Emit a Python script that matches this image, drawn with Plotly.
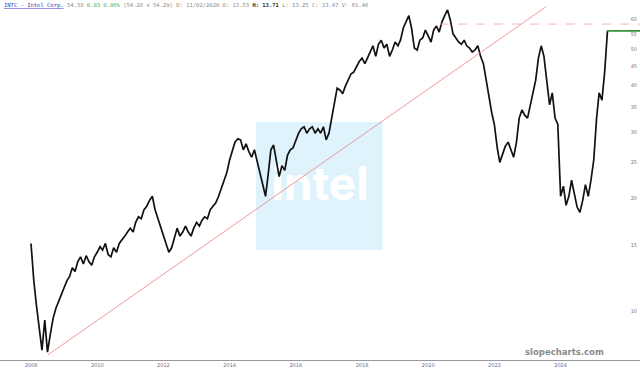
import pandas as pd
import plotly.graph_objects as go

# Monthly closing prices (Jan 2008 onward)
prices = [
    15.2, 12.1, 10.4, 8.9, 7.9, 9.5, 7.8, 8.7, 9.6, 10.2, 10.6, 11.1,
    11.6, 12.1, 12.4, 13.1, 12.8, 13.6, 14.0, 13.4, 14.1, 13.6, 13.3, 14.0,
    14.4, 14.9, 14.6, 15.2, 14.2, 14.0, 14.8, 14.4, 15.2, 15.5, 15.9, 16.3,
    16.7, 16.3, 17.3, 17.9, 17.7, 18.7, 19.1, 19.8, 20.3, 18.7, 17.7, 16.9,
    15.9, 15.1, 14.4, 14.8, 15.7, 16.7, 15.9, 16.3, 16.9, 16.3, 15.9, 16.7,
    17.3, 16.9, 17.5, 17.9, 17.7, 18.7, 19.1, 19.5, 20.3, 21.3, 22.1, 23.5,
    25.4, 27.0, 28.3, 28.9, 28.7, 27.0, 28.0, 26.7, 25.8, 27.0, 25.0, 23.5,
    21.8, 20.3, 23.1, 27.0, 27.8, 25.4, 22.9, 24.5, 23.8, 26.1, 27.0, 27.3,
    28.7, 29.9, 30.7, 31.1, 29.9, 30.7, 31.1, 29.9, 30.7, 29.9, 31.1, 28.7,
    29.9, 32.8, 35.3, 39.4, 38.97, 38.1, 39.9, 41.4, 43.0, 43.5, 45.2, 46.4,
    47.4, 45.8, 47.4, 49.2, 51.1, 47.9, 51.6, 52.9, 50.4, 51.6, 47.9, 49.8,
    52.3, 51.1, 52.9, 57.0, 59.2, 61.5, 57.0, 50.4, 49.8, 52.9, 53.6, 56.3,
    54.3, 52.3, 56.3, 57.7, 55.6, 59.2, 61.5, 63.7, 59.9, 55.0, 53.6, 52.3,
    51.6, 52.9, 51.1, 50.4, 49.2, 49.8, 51.1, 47.9, 45.8, 41.4, 37.1, 34.0,
    31.4, 27.3, 25.0, 26.4, 27.6, 28.3, 27.0, 25.8, 28.3, 32.8, 34.5, 33.4,
    32.8, 35.6, 38.1, 41.4, 47.4, 51.1, 47.9, 41.9, 35.6, 38.3, 32.8, 31.6,
    20.3, 21.6, 19.2, 20.3, 22.4, 20.6, 19.0, 18.4, 19.8, 21.8, 20.3, 22.4,
    25.4, 32.8, 38.3, 36.6, 43.5, 56.0,
]
dates = pd.date_range("2008-01-01", periods=len(prices), freq="MS")

trend_dates = ["2008-07-05", "2023-07-22"]
trend_values = [7.67, 64.9]

high_level = 58.4
high_start = "2020-05-10"
last_price = 56.0
last_start = "2025-05-26"

x_start, x_end = "2007-01-24", "2026-05-26"
tick_years = [2008, 2010, 2012, 2014, 2016, 2018, 2020, 2022, 2024]
y_ticks = [10, 15, 20, 25, 30, 35, 40, 45, 50, 55, 60]

fig = go.Figure()

# watermark logo text (drawn first so the price line sits on top)
fig.add_trace(go.Scatter(x=["2016-09-24"], y=[21.3], mode="text", text=["<b>intel</b>"],
                         textposition="middle center",
                         textfont=dict(family="Inter", size=46, color="#ffffff"),
                         hoverinfo="skip"))

fig.add_trace(go.Scatter(x=dates, y=prices, mode="lines",
                         line=dict(color="#111111", width=1.7), hoverinfo="skip"))
fig.add_trace(go.Scatter(x=trend_dates, y=trend_values, mode="lines",
                         line=dict(color="#f08080", width=0.8), hoverinfo="skip"))
fig.add_trace(go.Scatter(x=[high_start, x_end], y=[high_level, high_level], mode="lines",
                         line=dict(color="#f4a0a0", width=0.8, dash="dash"), hoverinfo="skip"))
fig.add_trace(go.Scatter(x=[last_start, x_end], y=[last_price, last_price], mode="lines",
                         line=dict(color="#3c8c3c", width=1.6), hoverinfo="skip"))

fig.add_shape(type="rect", xref="paper", yref="paper", x0=0.4, x1=0.598, y0=0.3056, y1=0.661,
              fillcolor="#dff3fd", line=dict(width=0), layer="below")

fig.add_annotation(xref="paper", yref="paper", x=0.947, y=0.022, xanchor="right", yanchor="middle",
                   text="<b>slopecharts.com</b>", showarrow=False,
                   font=dict(family="DejaVu Sans", size=8.5, color="#8a8a8a"))

header = ("<span style='color:#4040c0'><u>INTC - Intel Corp.</u></span>"
          " 54.38 <span style='color:#4caf50'>0.03 0.06%</span>"
          " (54.28 x 54.29) D: 11/02/2020 O: 13.53 <b style='color:#333'>H: 13.71</b>"
          " L: 13.25 C: 13.47 V: 61.46")
fig.add_annotation(xref="paper", yref="paper", x=0.003, y=0.999, xanchor="left", yanchor="top",
                   text=header, showarrow=False,
                   font=dict(family="DejaVu Sans Mono", size=5.5, color="#888888"))

fig.update_layout(
    width=640, height=373, margin=dict(l=0, r=0, t=0, b=13),
    paper_bgcolor="white", plot_bgcolor="white", showlegend=False,
    xaxis=dict(range=[x_start, x_end], showgrid=False, zeroline=False,
               tickvals=[f"{y}-01-01" for y in tick_years], ticktext=[str(y) for y in tick_years],
               tickfont=dict(size=5, color="#6a6a9a", family="DejaVu Sans"), ticks="",
               showline=True, linecolor="#9a9a9a", linewidth=1),
    yaxis=dict(type="log", range=[0.8713, 1.8305], side="right", showgrid=False, zeroline=False,
               tickvals=y_ticks, ticktext=[str(v) for v in y_ticks], ticklabelposition="inside",
               tickfont=dict(size=5, color="#777777", family="DejaVu Sans"), ticks="",
               showline=False),
)

fig.write_html("out.html")
